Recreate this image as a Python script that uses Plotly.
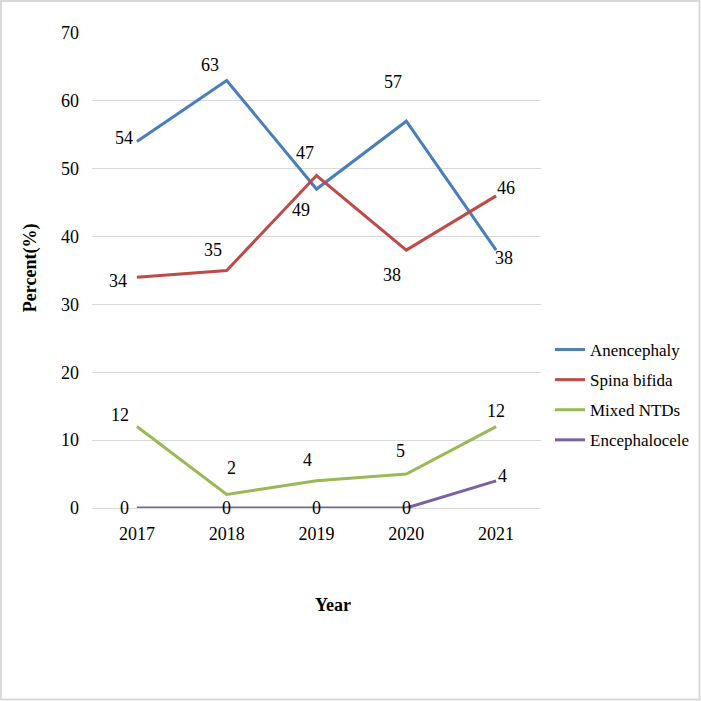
import plotly.graph_objects as go

years = ["2017", "2018", "2019", "2020", "2021"]
anencephaly = [54, 63, 47, 57, 38]
spina_bifida = [34, 35, 49, 38, 46]
mixed_ntds = [12, 2, 4, 5, 12]
encephalocele = [0, 0, 0, 0, 4]

series = [
    ("Anencephaly", anencephaly, "#4A7EBB"),
    ("Spina bifida", spina_bifida, "#BE4B48"),
    ("Mixed NTDs", mixed_ntds, "#98B954"),
    ("Encephalocele", encephalocele, "#7D60A0"),
]

# label offsets (px) per series, per point: (xshift, yshift)
label_shifts = {
    "Anencephaly": [(-13, 4), (-17, 16), (-12, 36), (-13, 39), (8, -8)],
    "Spina bifida": [(-19, -4), (-14, 21), (-16, -34), (-14, -25), (10, 8)],
    "Mixed NTDs": [(-17, 12), (5, 26), (-9, 21), (-6, 23), (0, 16)],
    "Encephalocele": [(-12, 0), (0, 0), (0, 0), (0, 0), (6, 5)],
}

FONT = "Liberation Serif"
FS = 18
fig = go.Figure()
annotations = []
for i, (name, vals, color) in enumerate(series):
    fig.add_trace(go.Scatter(
        x=years, y=vals, name=name, mode="lines",
        line=dict(color=color, width=3),
        legendgroup=name,
    ))
    for j, v in enumerate(vals):
        dx, dy = label_shifts[name][j]
        annotations.append(dict(
            x=j, y=v, xref="x", yref="y", text=str(v), showarrow=False,
            xanchor="center", yanchor="middle",
            xshift=dx, yshift=dy, font=dict(family=FONT, size=FS, color="black"),
        ))

annotations.append(dict(
    x=-0.138, y=0.505, xref="paper", yref="paper", text="<b>Percent(%)</b>",
    xanchor="center", yanchor="middle",
    textangle=-90, showarrow=False, font=dict(family=FONT, size=FS, color="black"),
))
annotations.append(dict(
    x=0.537, y=-0.204, xref="paper", yref="paper", text="<b>Year</b>",
    xanchor="center", yanchor="middle",
    showarrow=False, font=dict(family=FONT, size=FS, color="black"),
))

W, H = 701, 701
ml, mr, mt, mb = 92, 160, 33, 193
pw, ph = W - ml - mr, H - mt - mb

def px2paper_x(px):
    return (px - ml) / pw

def px2paper_y(py):
    return (H - mb - py) / ph

fig.update_layout(
    width=W, height=H,
    margin=dict(l=ml, r=mr, t=mt, b=mb, autoexpand=False),
    paper_bgcolor="white", plot_bgcolor="white",
    font=dict(family=FONT, size=FS, color="black"),
    showlegend=True,
    legend=dict(
        x=px2paper_x(550), y=px2paper_y(395), xanchor="left", yanchor="middle",
        font=dict(family=FONT, size=17, color="black"),
        tracegroupgap=5, traceorder="grouped", bgcolor="rgba(0,0,0,0)",
    ),
    xaxis=dict(
        type="category", range=[-0.5, 4.5], showgrid=False, zeroline=False,
        showline=False, ticks="", ticklabelstandoff=13,
        tickfont=dict(family=FONT, size=FS, color="black"),
    ),
    yaxis=dict(
        range=[0, 70], dtick=10, showgrid=True, gridcolor="#D9D9D9", gridwidth=1,
        zeroline=True, zerolinecolor="#D9D9D9", zerolinewidth=1,
        showline=False, ticks="", ticklabelstandoff=12,
        tickfont=dict(family=FONT, size=FS, color="black"),
    ),
    annotations=annotations,
    shapes=[dict(
        type="rect", xref="paper", yref="paper",
        x0=px2paper_x(1), x1=px2paper_x(699.5), y0=px2paper_y(699.5), y1=px2paper_y(1),
        line=dict(color="#D9D9D9", width=2), fillcolor="rgba(0,0,0,0)", layer="below",
    )],
)

fig.write_html("out.html")
